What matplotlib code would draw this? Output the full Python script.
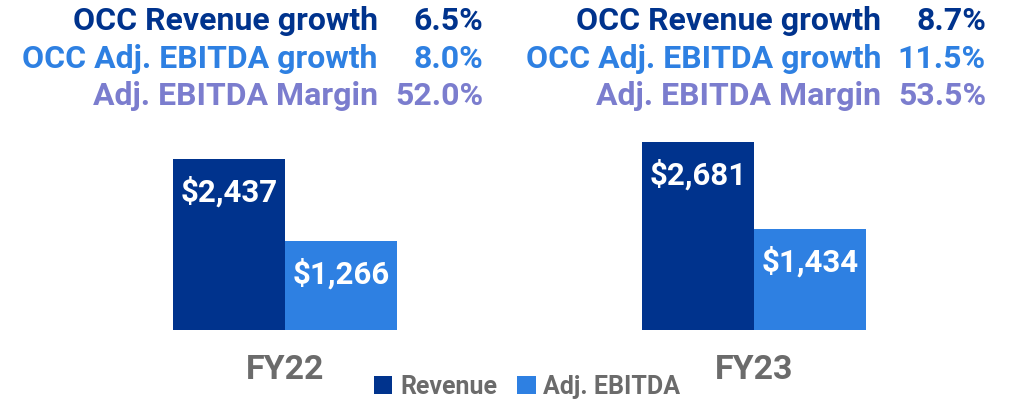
import numpy as np
import matplotlib.pyplot as plt

plt.rcParams['font.family'] = ['Roboto', 'DejaVu Sans']

years = ['FY22', 'FY23']
revenue = [2437, 2681]
adj_ebitda = [1266, 1434]
rev_growth = ['6.5%', '8.7%']
ebitda_growth = ['8.0%', '11.5%']
ebitda_margin = ['52.0%', '53.5%']

navy = '#00338D'
blue = '#2E80E2'
purple = '#7B7DCE'
grey = '#6B6B6B'

fig = plt.figure(figsize=(10.15, 4.03), dpi=100)
ax = fig.add_axes([0, 73 / 403, 1, 330 / 403])

x = np.arange(len(years))
w = 0.2388
b1 = ax.bar(x - w / 2, revenue, w, color=navy, label='Revenue')
b2 = ax.bar(x + w / 2, adj_ebitda, w, color=blue, label='Adj. EBITDA')

ax.set_xlim(-285 / 469, 730 / 469)
ax.set_ylim(0, 4700)
ax.axis('off')

off = 33 / 0.0702
for bars in (b1, b2):
    for r in bars:
        ax.text(r.get_x() + r.get_width() / 2, r.get_height() - off,
                f'${r.get_height():,.0f}', ha='center', va='center',
                color='white', fontsize=22.5, fontweight='bold')

for i, yr in enumerate(years):
    ax.text(x[i], -40 / 0.0702, yr, ha='center', va='center',
            color=grey, fontsize=24.5, fontweight='bold')

# header blocks above each year
label_right = [378, 881]
value_right = [483, 986]
rows = [('OCC Revenue growth', rev_growth, navy),
        ('OCC Adj. EBITDA growth', ebitda_growth, blue),
        ('Adj. EBITDA Margin', ebitda_margin, purple)]
row_y = [21, 59, 96]
for i in range(len(years)):
    for (name, vals, c), yy in zip(rows, row_y):
        fig.text(label_right[i] / 1015, 1 - yy / 403, name, ha='right',
                 va='center', color=c, fontsize=23, fontweight='bold')
        fig.text(value_right[i] / 1015, 1 - yy / 403, vals[i], ha='right',
                 va='center', color=c, fontsize=23, fontweight='bold')

leg = fig.legend(handles=[b1, b2], loc='center', bbox_to_anchor=(527 / 1015, 1 - 387 / 403),
                 ncol=2, frameon=False, handlelength=0.75, handleheight=0.75,
                 handletextpad=0.3, columnspacing=0.8,
                 prop={'size': 18, 'weight': 'bold'})
for t in leg.get_texts():
    t.set_color(grey)

fig.savefig('out.png', dpi=100)
